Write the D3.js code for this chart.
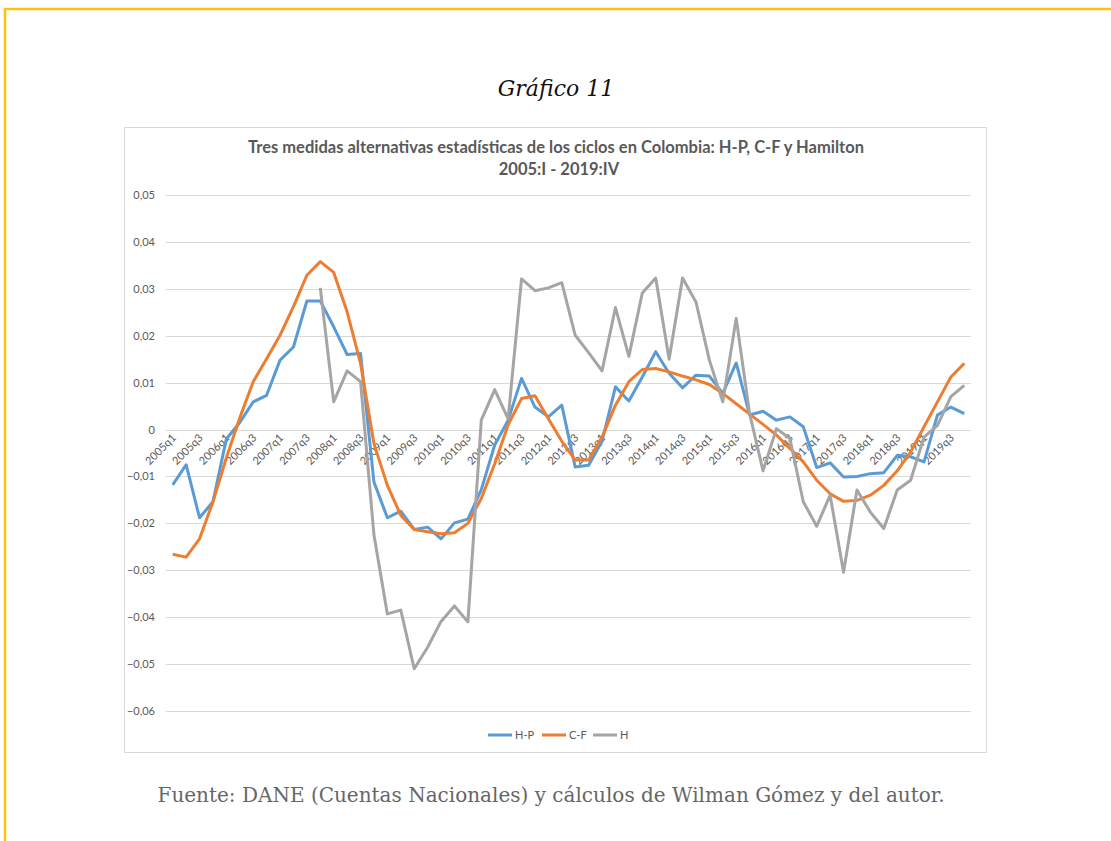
<!DOCTYPE html>
<html>
<head>
<meta charset="utf-8">
<script src="https://cdn.jsdelivr.net/npm/d3@7"></script>
<style>
  body { margin: 0; background: #fff; }
  svg { display: block; }
</style>
</head>
<body>
<div id="chart"></div>
<script>
// quarters 2005q1 .. 2019q4
var quarters = [];
for (var yr = 2005; yr <= 2019; yr++) {
    for (var q = 1; q <= 4; q++) quarters.push(yr + "q" + q);
}

var hp = [-0.0118, -0.0075, -0.0188, -0.0154, -0.0020, 0.0015, 0.0059, 0.0073, 0.0148, 0.0176,
          0.0274, 0.0274, 0.0219, 0.0160, 0.0162, -0.0112, -0.0188, -0.0174, -0.0213, -0.0208,
          -0.0233, -0.0199, -0.0191, -0.0128, -0.0033, 0.0020, 0.0109, 0.0048, 0.0027, 0.0052,
          -0.0080, -0.0076, -0.0025, 0.0091, 0.0061, 0.0112, 0.0166, 0.0120, 0.0089, 0.0116,
          0.0114, 0.0077, 0.0142, 0.0031, 0.0039, 0.0020, 0.0027, 0.0006, -0.0081, -0.0071,
          -0.0101, -0.0100, -0.0094, -0.0092, -0.0055, -0.0058, -0.0069, 0.0031, 0.0048, 0.0034];

var cf = [-0.0266, -0.0272, -0.0233, -0.0154, -0.0060, 0.0025, 0.0102, 0.0151, 0.0201, 0.0262,
          0.0329, 0.0358, 0.0335, 0.0251, 0.0141, -0.0030, -0.0119, -0.0183, -0.0213, -0.0218,
          -0.0222, -0.0220, -0.0200, -0.0147, -0.0073, 0.0010, 0.0066, 0.0072, 0.0023, -0.0025,
          -0.0065, -0.0065, -0.0016, 0.0052, 0.0102, 0.0128, 0.0130, 0.0123, 0.0114, 0.0106,
          0.0096, 0.0077, 0.0055, 0.0033, 0.0011, -0.0012, -0.0040, -0.0069, -0.0108, -0.0137,
          -0.0153, -0.0151, -0.0140, -0.0119, -0.0088, -0.0048, 0.0006, 0.0059, 0.0112, 0.0141];

// Hamilton filter starts in 2007q4
var ham = [null, null, null, null, null, null, null, null, null, null,
           null, 0.0302, 0.0059, 0.0125, 0.0102, -0.0225, -0.0393, -0.0385, -0.0510, -0.0464,
           -0.0409, -0.0376, -0.0410, 0.0020, 0.0085, 0.0023, 0.0321, 0.0296, 0.0302, 0.0313,
           0.0201, 0.0164, 0.0125, 0.0260, 0.0156, 0.0291, 0.0323, 0.0150, 0.0323, 0.0272,
           0.0148, 0.0059, 0.0237, 0.0034, -0.0088, 0.0002, -0.0019, -0.0154, -0.0206, -0.0140,
           -0.0304, -0.0129, -0.0176, -0.0211, -0.0129, -0.0108, -0.0016, 0.0009, 0.0070, 0.0094];

var yTicks = [0.05, 0.04, 0.03, 0.02, 0.01, 0, -0.01, -0.02, -0.03, -0.04, -0.05, -0.06];

var series = [
    {name: "H-P", values: hp, color: "#5B9BD5"},
    {name: "C-F", values: cf, color: "#ED7D31"},
    {name: "H", values: ham, color: "#A5A5A5"}
];

var W = 1111, H = 841;
var plot = {left: 166, right: 971, top: 195, bottom: 711};

var svg = d3.select("#chart").append("svg")
    .attr("width", W)
    .attr("height", H);

// yellow frame (top and left)
svg.append("line")
    .attr("x1", 4).attr("x2", W).attr("y1", 9).attr("y2", 9)
    .attr("stroke", "#FFC20E").attr("stroke-width", 2.5);
svg.append("line")
    .attr("x1", 5).attr("x2", 5).attr("y1", 8).attr("y2", H)
    .attr("stroke", "#FFC20E").attr("stroke-width", 2.5);

svg.append("text")
    .attr("x", 556).attr("y", 96)
    .attr("text-anchor", "middle")
    .style("font-family", "DejaVu Serif")
    .style("font-style", "italic")
    .style("font-size", "22px")
    .style("fill", "#111")
    .text("Gráfico 11");

// chart box
svg.append("rect")
    .attr("x", 124.5).attr("y", 127.5)
    .attr("width", 862).attr("height", 625)
    .attr("fill", "#fff")
    .attr("stroke", "#D9D9D9");

svg.append("text")
    .attr("x", 556).attr("y", 153)
    .attr("text-anchor", "middle")
    .style("font-family", "Lato")
    .style("font-weight", "bold")
    .style("font-size", "16.5px")
    .style("fill", "#595959")
    .text("Tres medidas alternativas estadísticas de los ciclos en Colombia: H-P, C-F y Hamilton");
svg.append("text")
    .attr("x", 559).attr("y", 175)
    .attr("text-anchor", "middle")
    .style("font-family", "Lato")
    .style("font-weight", "bold")
    .style("font-size", "16.5px")
    .style("fill", "#595959")
    .text("2005:I - 2019:IV");

var x = d3.scaleBand()
    .domain(quarters)
    .range([plot.left, plot.right]);

var y = d3.scaleLinear()
    .domain([-0.06, 0.05])
    .range([plot.bottom, plot.top]);

var fmt = function(d) { return d === 0 ? "0" : d3.format(".2f")(d).replace(".", ","); };

// gridlines
svg.append("g")
    .selectAll("line")
    .data(yTicks)
    .enter().append("line")
        .attr("x1", plot.left).attr("x2", plot.right)
        .attr("y1", function(d) { return Math.round(y(d)) + 0.5; })
        .attr("y2", function(d) { return Math.round(y(d)) + 0.5; })
        .attr("stroke", "#D9D9D9");

var yAxis = svg.append("g")
    .attr("transform", "translate(" + plot.left + ",0)")
    .call(d3.axisLeft(y).tickValues(yTicks).tickFormat(fmt).tickSize(0).tickPadding(11));
yAxis.select(".domain").remove();
yAxis.selectAll("text")
    .style("font-family", "Lato")
    .style("font-size", "11px")
    .style("fill", "#595959");

// category labels every second quarter, at the zero line
var xLabels = quarters.filter(function(d, i) { return i % 2 === 0; });
svg.append("g")
    .selectAll("text")
    .data(xLabels)
    .enter().append("text")
        .attr("transform", function(d) {
            return "translate(" + (x(d) + x.bandwidth() / 2 + 4) + "," + (y(0) + 9) + ") rotate(-45)";
        })
        .attr("text-anchor", "end")
        .style("font-family", "Lato")
        .style("font-size", "11px")
        .style("fill", "#595959")
        .text(function(d) { return d; });

var line = d3.line()
    .defined(function(d) { return d != null; })
    .x(function(d, i) { return x(quarters[i]) + x.bandwidth() / 2; })
    .y(function(d) { return y(d); });

svg.append("g")
    .selectAll("path")
    .data(series)
    .enter().append("path")
        .attr("d", function(d) { return line(d.values); })
        .attr("fill", "none")
        .attr("stroke", function(d) { return d.color; })
        .attr("stroke-width", 3)
        .attr("stroke-linejoin", "round");

// legend
var legendX = [488, 542, 593];
var legendG = svg.selectAll(".legend")
    .data(series)
    .enter().append("g")
        .attr("class", "legend")
        .attr("transform", function(d, i) { return "translate(" + legendX[i] + ",735)"; });
legendG.append("line")
    .attr("x1", 0).attr("x2", 24)
    .attr("stroke", function(d) { return d.color; })
    .attr("stroke-width", 3);
legendG.append("text")
    .attr("x", 27).attr("y", 4)
    .style("font-family", "Lato")
    .style("font-size", "11px")
    .style("fill", "#595959")
    .text(function(d) { return d.name; });

svg.append("text")
    .attr("x", 551).attr("y", 802)
    .attr("text-anchor", "middle")
    .style("font-family", "DejaVu Serif")
    .style("font-size", "20px")
    .style("fill", "#666")
    .text("Fuente: DANE (Cuentas Nacionales) y cálculos de Wilman Gómez y del autor.");
</script>
</body>
</html>
